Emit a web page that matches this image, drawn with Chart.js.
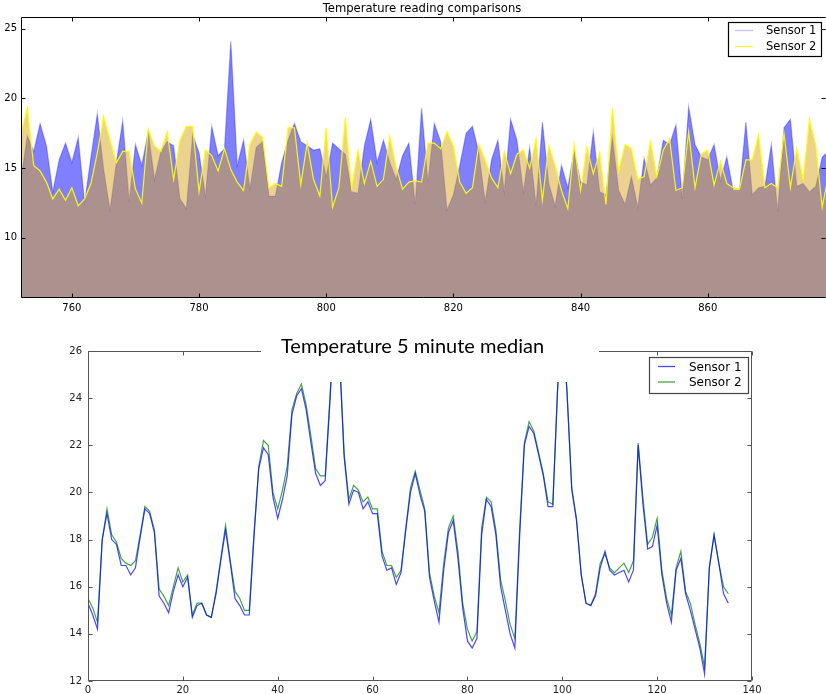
<!DOCTYPE html>
<html>
<head>
<meta charset="utf-8">
<script src="https://cdn.jsdelivr.net/npm/chart.js@4"></script>
<style>
  body { margin: 0; background: #fff; width: 826px; height: 694px; overflow: hidden; position: relative; }
  canvas { position: absolute; left: 0; }
  #top { top: 0; }
  #bottom { top: 320px; }
</style>
</head>
<body>
<canvas id="top" width="826" height="320"></canvas>
<canvas id="bottom" width="826" height="374"></canvas>
<script>
// ---- top chart data (raw readings, index 752..879) ----
const topStart = 752;
const topSensor1 = [
  14.2, 17.3, 16.2, 18.2, 16.6, 13.3, 15.6, 16.8, 15.4, 17.2,
  12.5, 15.8, 18.9, 14.9, 12.0, 15.4, 18.4, 12.6, 16.7, 15.2,
  17.6, 14.2, 16.2, 16.9, 16.6, 12.8, 12.1, 17.4, 16.1, 13.0,
  18.0, 15.9, 16.4, 24.1, 15.2, 17.0, 13.5, 16.5, 16.9, 13.0,
  13.0, 15.4, 17.0, 18.2, 16.9, 16.6, 16.3, 16.4, 14.4, 16.8,
  16.4, 16.0, 13.3, 13.2, 16.6, 18.5, 15.4, 17.0, 15.4, 14.2,
  15.9, 16.8, 12.4, 19.3, 14.0, 18.2, 16.9, 12.0, 13.1, 15.2,
  17.5, 18.0, 16.1, 12.6, 15.6, 17.0, 13.3, 18.5, 17.0, 13.3,
  16.5, 12.3, 18.3, 13.9, 12.3, 15.2, 13.6, 16.3, 14.0, 13.8,
  17.6, 13.3, 13.1, 17.2, 13.4, 12.4, 14.4, 12.2, 15.7, 13.8,
  14.3, 17.0, 16.7, 18.1, 12.8, 19.4, 16.7, 15.8, 15.6, 16.7,
  14.1, 15.8, 13.4, 13.4, 18.3, 13.1, 13.6, 13.7, 16.7, 11.9,
  17.9, 18.5, 13.7, 13.9, 13.3, 13.7, 15.8, 16.2
];
const topSensor2 = [
  17.5, 19.3, 15.2, 14.8, 14.0, 12.8, 13.5, 12.7, 13.6, 12.3,
  12.8, 13.9, 16.1, 18.7, 17.0, 15.4, 16.2, 16.2, 13.5, 12.5,
  17.8, 16.6, 16.2, 17.6, 14.2, 17.0, 18.0, 18.0, 13.3, 16.3,
  15.9, 14.8, 16.4, 14.9, 14.0, 13.4, 16.7, 17.6, 17.2, 13.6,
  13.9, 13.7, 17.9, 17.9, 13.8, 16.8, 14.2, 13.0, 17.9, 12.2,
  13.6, 18.6, 13.6, 16.3, 13.9, 15.5, 13.7, 14.2, 17.3, 15.1,
  13.5, 14.0, 14.1, 14.0, 16.8, 16.8, 16.4, 17.6, 16.6, 14.0,
  13.2, 13.6, 16.7, 15.6, 14.3, 13.6, 16.2, 14.6, 16.0, 16.3,
  15.0, 17.1, 12.7, 16.6, 15.2, 13.4, 12.1, 16.7, 13.4, 16.5,
  14.6, 16.1, 12.4, 19.3, 14.8, 16.7, 16.4, 14.2, 14.4, 16.9,
  14.4, 16.3, 17.1, 13.4, 13.6, 17.6, 13.6, 16.0, 16.3, 13.8,
  15.5, 13.9, 13.6, 13.5, 15.6, 15.6, 17.4, 13.6, 13.9, 13.6,
  17.5, 13.6, 16.4, 14.2, 18.5, 16.6, 12.2, 14.5
];
const topXTicks = [760, 780, 800, 820, 840, 860];
const topYTicks = [10, 15, 20, 25];

// ---- bottom chart data (5 minute median, index 0..135) ----
const medSensor1 = [
  15.3, 14.8, 14.2, 18.0, 19.1, 18.0, 17.8, 16.9, 16.9, 16.5,
  16.8, 18.1, 19.3, 19.1, 18.3, 15.6, 15.3, 14.9, 15.8, 16.5,
  16.0, 16.4, 14.7, 15.2, 15.3, 14.8, 14.7, 15.7, 17.1, 18.4,
  17.0, 15.5, 15.2, 14.8, 14.8, 18.1, 21.0, 21.9, 21.6, 19.8,
  18.9, 19.7, 20.7, 23.3, 24.1, 24.4, 23.5, 22.1, 20.8, 20.3,
  20.5, 23.8, 27.5, 25.9, 21.5, 19.5, 20.1, 20.0, 19.3, 19.6,
  19.1, 19.1, 17.3, 16.7, 16.8, 16.1, 16.6, 18.4, 20.0, 20.8,
  19.9, 19.2, 16.4, 15.4, 14.5, 16.7, 18.3, 18.8, 17.2, 15.1,
  13.7, 13.4, 13.8, 18.2, 19.7, 19.4, 18.2, 16.0, 15.0, 14.0,
  13.4, 18.1, 22.0, 22.8, 22.5, 21.6, 20.7, 19.4, 19.4, 24.3,
  27.5, 24.2, 20.1, 18.8, 16.5, 15.3, 15.2, 15.6, 16.8, 17.5,
  16.7, 16.5, 16.6, 16.7, 16.2, 16.7, 22.0, 19.5, 17.6, 17.7,
  18.6, 16.5, 15.3, 14.5, 16.7, 17.2, 15.7, 15.0, 14.2, 13.4,
  12.3, 16.8, 18.2, 17.0, 15.7, 15.3
];
const medSensor2 = [
  15.5, 15.1, 14.5, 18.0, 19.3, 18.2, 17.9, 17.2, 17.0, 16.9,
  17.1, 18.2, 19.4, 19.2, 18.4, 15.9, 15.6, 15.2, 16.0, 16.8,
  16.2, 16.5, 14.8, 15.3, 15.3, 14.8, 14.7, 15.8, 17.2, 18.6,
  17.1, 15.8, 15.5, 15.0, 15.0, 18.3, 21.1, 22.2, 22.0, 20.0,
  19.3, 20.1, 21.1, 23.5, 24.2, 24.6, 23.7, 22.4, 21.0, 20.7,
  20.7, 24.0, 27.6, 26.0, 21.7, 19.7, 20.3, 20.1, 19.6, 19.8,
  19.3, 19.3, 17.5, 16.9, 16.9, 16.4, 16.7, 18.5, 20.2, 20.9,
  20.1, 19.3, 16.6, 15.6, 14.9, 17.0, 18.5, 19.0, 17.5, 15.3,
  14.2, 13.7, 14.1, 18.5, 19.8, 19.6, 18.4, 16.3, 15.4, 14.4,
  13.8, 18.4, 22.1, 23.0, 22.6, 21.7, 20.8, 19.6, 19.5, 24.4,
  27.6, 24.3, 20.2, 18.9, 16.5, 15.3, 15.2, 15.7, 17.0, 17.4,
  16.8, 16.6, 16.8, 17.0, 16.6, 17.1, 22.1, 19.8, 17.8, 18.1,
  18.9, 16.7, 15.5, 14.8, 16.8, 17.5, 15.8, 15.3, 14.4, 13.6,
  12.6, 16.8, 18.2, 17.0, 16.0, 15.7
];
const medXTicks = [0, 20, 40, 60, 80, 100, 120, 140];
const medYTicks = [12, 14, 16, 18, 20, 22, 24, 26];

const toPoints = (arr, start) => arr.map((v, i) => ({ x: start + i, y: v }));
const fixTicks = list => s => { s.ticks = list.map(v => ({ value: v })); };

// matplotlib style frame with inward ticks
const framePlugin = {
  id: 'frame',
  afterDatasetsDraw(chart, args, o) {
    const { ctx, chartArea: a, scales: { x, y } } = chart;
    ctx.save();
    ctx.strokeStyle = o.color;
    ctx.lineWidth = 1;
    ctx.beginPath();
    const L = Math.round(a.left) + 0.5, R = Math.round(a.right) - 0.5;
    const T = Math.round(a.top) + 0.5, B = Math.round(a.bottom) - 0.5;
    ctx.moveTo(L, T); ctx.lineTo(L, B); ctx.lineTo(R, B);
    ctx.moveTo(L, T); ctx.lineTo(R, T);
    if (!o.noRight) { ctx.moveTo(R, T); ctx.lineTo(R, B); }
    x.ticks.forEach(t => {
      const p = Math.round(x.getPixelForValue(t.value)) + 0.5;
      if (p < a.left - 1 || p > a.right + 1) return;
      ctx.moveTo(p, B); ctx.lineTo(p, B - 4);
      ctx.moveTo(p, T); ctx.lineTo(p, T + 4);
    });
    y.ticks.forEach(t => {
      const p = Math.round(y.getPixelForValue(t.value)) + 0.5;
      ctx.moveTo(L, p); ctx.lineTo(L + 4, p);
      ctx.moveTo(R, p); ctx.lineTo(R - 4, p);
    });
    ctx.stroke();
    ctx.restore();
  }
};

// legend box with line handles
const boxLegend = {
  id: 'boxLegend',
  afterDraw(chart, args, o) {
    const ctx = chart.ctx;
    ctx.save();
    ctx.fillStyle = '#fff';
    ctx.fillRect(o.x, o.y, o.w, o.h);
    ctx.strokeStyle = o.border;
    ctx.lineWidth = 1.2;
    ctx.strokeRect(o.x + 0.5, o.y + 0.5, o.w, o.h);
    ctx.font = o.font;
    ctx.textBaseline = 'middle';
    ctx.fillStyle = '#000';
    chart.data.datasets.forEach((ds, i) => {
      const ry = o.rows[i];
      ctx.strokeStyle = ds.legendColor || ds.borderColor;
      ctx.lineWidth = 1.3;
      ctx.beginPath();
      ctx.moveTo(o.lx1, ry); ctx.lineTo(o.lx2, ry);
      ctx.stroke();
      ctx.fillText(ds.label, o.tx, ry + 1);
    });
    ctx.restore();
  }
};

const headline = {
  id: 'headline',
  afterDraw(chart, args, o) {
    const ctx = chart.ctx;
    ctx.save();
    if (o.box) {
      ctx.fillStyle = '#fff';
      ctx.fillRect(o.box[0], o.box[1], o.box[2], o.box[3]);
    }
    ctx.fillStyle = '#000';
    ctx.font = o.font;
    ctx.textAlign = o.align;
    ctx.textBaseline = o.baseline;
    ctx.fillText(o.text, o.x, o.y);
    ctx.restore();
  }
};

const tickFont = { family: 'DejaVu Sans', size: 10 };

new Chart(document.getElementById('top'), {
  type: 'line',
  data: {
    datasets: [
      {
        label: 'Sensor 1',
        data: toPoints(topSensor1, topStart),
        borderColor: 'rgba(0,0,255,0.3)',
        legendColor: 'rgba(80,80,230,0.35)',
        backgroundColor: 'rgba(0,0,255,0.5)',
        borderWidth: 1.2,
        fill: 'origin',
        order: 1
      },
      {
        label: 'Sensor 2',
        data: toPoints(topSensor2, topStart),
        borderColor: 'rgba(255,255,0,0.95)',
        legendColor: 'rgba(245,240,0,0.8)',
        backgroundColor: 'rgba(218,165,32,0.5)',
        borderWidth: 1.2,
        fill: 'origin',
        order: 0
      }
    ]
  },
  options: {
    responsive: false,
    animation: false,
    layout: { padding: { top: 17, right: 0, left: 0, bottom: 0 } },
    elements: { point: { radius: 0 }, line: { tension: 0 } },
    scales: {
      x: {
        type: 'linear', min: 752, max: 878.6,
        afterBuildTicks: fixTicks(topXTicks),
        afterFit: s => { s.height = 22; },
        grid: { display: false, drawTicks: false },
        border: { display: false },
        ticks: { font: tickFont, color: '#000', padding: 4, maxRotation: 0 }
      },
      y: {
        min: 5.69, max: 25.84,
        afterBuildTicks: fixTicks(topYTicks),
        afterFit: s => { s.width = 21; },
        grid: { display: false, drawTicks: false },
        border: { display: false },
        ticks: { font: tickFont, color: '#000', padding: 4 }
      }
    },
    plugins: {
      legend: { display: false },
      tooltip: { enabled: false },
      frame: { color: '#000', noRight: true },
      boxLegend: { x: 728, y: 22, w: 93, h: 34, lx1: 735, lx2: 753, tx: 766, rows: [30.5, 46.5], border: '#000', font: '11.5px "DejaVu Sans"' },
      headline: { text: 'Temperature reading comparisons', x: 422, y: 9, align: 'center', baseline: 'middle', font: '11.6px "DejaVu Sans"' }
    }
  },
  plugins: [framePlugin, boxLegend, headline]
});

new Chart(document.getElementById('bottom'), {
  type: 'line',
  data: {
    datasets: [
      {
        label: 'Sensor 1',
        data: toPoints(medSensor1, 0),
        borderColor: 'rgba(0,0,255,0.72)',
        borderWidth: 1.2,
        fill: false
      },
      {
        label: 'Sensor 2',
        data: toPoints(medSensor2, 0),
        borderColor: 'rgba(0,128,0,0.72)',
        borderWidth: 1.2,
        fill: false
      }
    ]
  },
  options: {
    responsive: false,
    animation: false,
    layout: { padding: { top: 31, right: 74, left: 0, bottom: 0 } },
    elements: { point: { radius: 0 }, line: { tension: 0 } },
    scales: {
      x: {
        type: 'linear', min: 0, max: 140,
        afterBuildTicks: fixTicks(medXTicks),
        afterFit: s => { s.height = 13; },
        grid: { display: false, drawTicks: false },
        border: { display: false },
        ticks: { font: tickFont, color: '#222', padding: 3, maxRotation: 0 }
      },
      y: {
        min: 12, max: 26,
        afterBuildTicks: fixTicks(medYTicks),
        afterFit: s => { s.width = 88; },
        grid: { display: false, drawTicks: false },
        border: { display: false },
        ticks: { font: tickFont, color: '#222', padding: 6 }
      }
    },
    plugins: {
      legend: { display: false },
      tooltip: { enabled: false },
      frame: { color: '#555' },
      boxLegend: { x: 649, y: 37, w: 99, h: 36, lx1: 658, lx2: 675, tx: 689, rows: [46.5, 62], border: '#444', font: '12px "DejaVu Sans"' },
      headline: { text: 'Temperature 5 minute median', x: 281, y: 33, align: 'left', baseline: 'alphabetic', font: '20px Lato', box: [261, 0, 338, 62] }
    }
  },
  plugins: [framePlugin, boxLegend, headline]
});
</script>
</body>
</html>
